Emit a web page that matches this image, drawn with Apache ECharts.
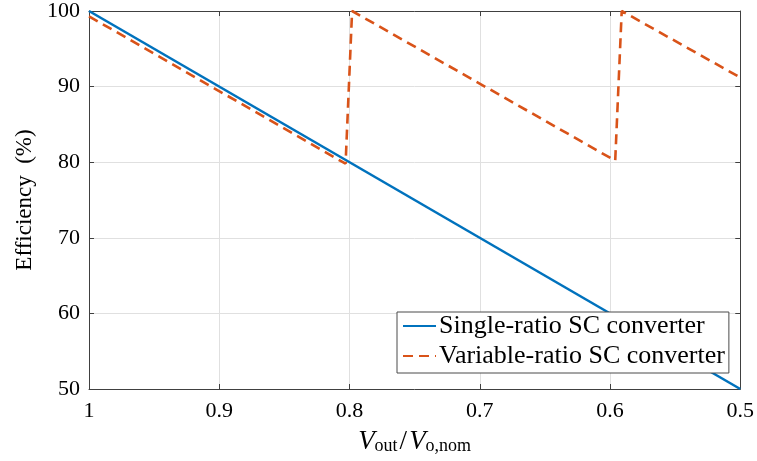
<!DOCTYPE html>
<html>
<head>
<meta charset="utf-8">
<style>
  html, body { margin: 0; padding: 0; background: #fff; }
  #chart { width: 757px; height: 461px; }
</style>
<script src="https://cdn.jsdelivr.net/npm/echarts@6/dist/echarts.min.js"></script>
</head>
<body>
<div id="chart"></div>
<script>
// Normalised output voltage (x) and efficiency in % (y) for each converter
const singleRatioX = [1, 0.5];
const singleRatioY = [100, 50];

const variableRatioX = [1, 0.803, 0.798, 0.596, 0.591, 0.5];
const variableRatioY = [99.3, 79.8, 100, 80.2, 100, 91.2];

const seriesNames = ['Single-ratio SC converter', 'Variable-ratio SC converter'];
const xTicks = [1, 0.9, 0.8, 0.7, 0.6, 0.5];
const yTicks = [50, 60, 70, 80, 90, 100];

const pairs = (xs, ys) => xs.map((x, i) => [x, ys[i]]);

const FONT = '"Liberation Serif", "DejaVu Serif", serif';
const AXIS_COLOR = '#404040';
const GRID_COLOR = '#e0e0e0';

const chart = echarts.init(document.getElementById('chart'), null, { renderer: 'canvas' });

const baseX = {
  type: 'value',
  min: xTicks[xTicks.length - 1],
  max: xTicks[0],
  interval: 0.1,
  inverse: true,
  axisLine: { show: true, onZero: false, lineStyle: { color: AXIS_COLOR, width: 1 } },
  axisTick: { show: true, inside: true, length: 5, lineStyle: { color: AXIS_COLOR } },
  splitLine: { show: false }
};
const baseY = {
  type: 'value',
  min: yTicks[0],
  max: yTicks[yTicks.length - 1],
  interval: 10,
  axisLine: { show: true, onZero: false, lineStyle: { color: AXIS_COLOR, width: 1 } },
  axisTick: { show: true, inside: true, length: 5, lineStyle: { color: AXIS_COLOR } },
  splitLine: { show: false }
};

chart.setOption({
  animation: false,
  backgroundColor: '#ffffff',
  grid: { left: 89, right: 15, top: 10, bottom: 72, containLabel: false },
  xAxis: [
    Object.assign({}, baseX, {
      position: 'bottom',
      splitLine: { show: true, lineStyle: { color: GRID_COLOR, width: 1 } },
      axisLabel: {
        margin: 11,
        color: '#000',
        fontFamily: FONT,
        fontSize: 22,
        formatter: v => String(parseFloat(v.toFixed(1)))
      },
      name: '{v|V}{s|out}{n|/}{v|V}{s|o,nom}',
      nameLocation: 'middle',
      nameGap: 38,
      nameTextStyle: {
        rich: {
          v: { fontFamily: FONT, fontStyle: 'italic', fontSize: 27, color: '#000', lineHeight: 28, verticalAlign: 'bottom' },
          s: { fontFamily: FONT, fontSize: 18, color: '#000', lineHeight: 15, verticalAlign: 'bottom' },
          n: { fontFamily: FONT, fontSize: 27, color: '#000', lineHeight: 28, verticalAlign: 'bottom', padding: [0, 2, 0, 2] }
        }
      }
    }),
    Object.assign({}, baseX, { position: 'top', axisLabel: { show: false } })
  ],
  yAxis: [
    Object.assign({}, baseY, {
      position: 'left',
      splitLine: { show: true, lineStyle: { color: GRID_COLOR, width: 1 } },
      axisLabel: { margin: 9, color: '#000', fontFamily: FONT, fontSize: 22 },
      name: 'Efficiency  (%)',
      nameLocation: 'middle',
      nameRotate: 90,
      nameGap: 52,
      nameTextStyle: { fontFamily: FONT, fontSize: 23, color: '#000' }
    }),
    Object.assign({}, baseY, { position: 'right', axisLabel: { show: false } })
  ],
  legend: {
    orient: 'vertical',
    left: 397,
    top: 312,
    itemWidth: 33,
    itemHeight: 14,
    itemGap: 4,
    padding: [1, 4, 4, 5],
    backgroundColor: '#ffffff',
    borderColor: '#4a4a4a',
    borderWidth: 1,
    itemStyle: { opacity: 0 },
    textStyle: { fontFamily: FONT, fontSize: 26, lineHeight: 26, color: '#000', padding: [0, 0, 0, -2] },
    data: seriesNames
  },
  series: [
    {
      name: seriesNames[0],
      type: 'line',
      data: pairs(singleRatioX, singleRatioY),
      symbol: 'none',
      lineStyle: { color: '#0072BD', width: 2.6 },
      itemStyle: { color: '#0072BD' },
      z: 3
    },
    {
      name: seriesNames[1],
      type: 'line',
      data: pairs(variableRatioX, variableRatioY),
      symbol: 'none',
      lineStyle: { color: '#D95319', width: 2.6, type: [10, 6] },
      itemStyle: { color: '#D95319' },
      z: 4
    }
  ]
});
</script>
</body>
</html>
